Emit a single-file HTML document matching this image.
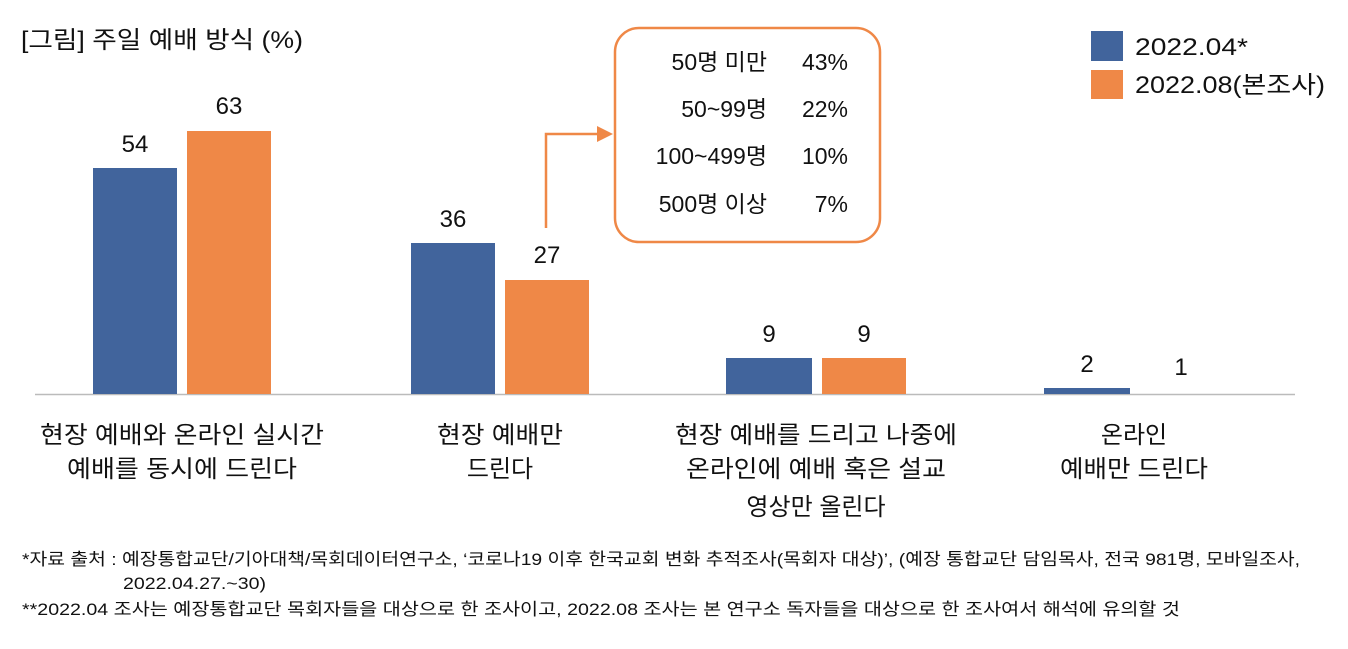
<!DOCTYPE html>
<html><head><meta charset="utf-8"><style>
body{margin:0;background:#fff;}
svg text{font-family:"Liberation Sans","Noto Sans CJK KR",sans-serif;fill:#111;}
</style></head><body>
<svg width="1348" height="644" xmlns="http://www.w3.org/2000/svg">
<text x="21" y="48" font-size="24" fill="#222" textLength="282" lengthAdjust="spacingAndGlyphs">[그림] 주일 예배 방식 (%)</text>
<line x1="35" y1="394.5" x2="1295" y2="394.5" stroke="#bbb" stroke-width="1.5"/>
<g fill="#41649c">
<rect x="93" y="168" width="84" height="226"/>
<rect x="411" y="243" width="84" height="151"/>
<rect x="726" y="358" width="86" height="36"/>
<rect x="1044" y="388" width="86" height="6"/>
</g>
<g fill="#ef8847">
<rect x="187" y="131" width="84" height="263"/>
<rect x="505" y="280" width="84" height="114"/>
<rect x="822" y="358" width="84" height="36"/>
</g>
<g font-size="24" text-anchor="middle">
<text x="135" y="152">54</text><text x="229" y="114">63</text>
<text x="453" y="227">36</text><text x="547" y="263">27</text>
<text x="769" y="342">9</text><text x="864" y="342">9</text>
<text x="1087" y="372">2</text><text x="1181" y="375">1</text>
</g>
<g font-size="24" text-anchor="middle">
<text x="182" y="443" textLength="284" lengthAdjust="spacingAndGlyphs">현장 예배와 온라인 실시간</text>
<text x="182" y="477" textLength="230" lengthAdjust="spacingAndGlyphs">예배를 동시에 드린다</text>
<text x="500" y="443" textLength="126" lengthAdjust="spacingAndGlyphs">현장 예배만</text>
<text x="500" y="477">드린다</text>
<text x="816" y="443" textLength="282" lengthAdjust="spacingAndGlyphs">현장 예배를 드리고 나중에</text>
<text x="816" y="477" textLength="260" lengthAdjust="spacingAndGlyphs">온라인에 예배 혹은 설교</text>
<text x="816" y="515">영상만 올린다</text>
<text x="1134" y="443">온라인</text>
<text x="1134" y="477" textLength="148" lengthAdjust="spacingAndGlyphs">예배만 드린다</text>
</g>
<rect x="615" y="28" width="265" height="214" rx="24" fill="#fff" stroke="#ef8847" stroke-width="2.5"/>
<g font-size="23" text-anchor="end">
<text x="767" y="70">50명 미만</text><text x="848" y="70">43%</text>
<text x="767" y="117">50~99명</text><text x="848" y="117">22%</text>
<text x="767" y="164">100~499명</text><text x="848" y="164">10%</text>
<text x="767" y="212">500명 이상</text><text x="848" y="212">7%</text>
</g>
<polyline points="546,228 546,134 600,134" fill="none" stroke="#ef8847" stroke-width="2.5"/>
<polygon points="597,126 613,134 597,142" fill="#ef8847"/>
<rect x="1091" y="31" width="32" height="30" fill="#41649c"/>
<rect x="1091" y="70" width="32" height="29" fill="#ef8847"/>
<text x="1135" y="55" font-size="24" textLength="113" lengthAdjust="spacingAndGlyphs">2022.04*</text>
<text x="1135" y="93" font-size="24" textLength="190" lengthAdjust="spacingAndGlyphs">2022.08(본조사)</text>
<g font-size="17" fill="#333">
<text x="22" y="565" textLength="1278" lengthAdjust="spacingAndGlyphs">*자료 출처 : 예장통합교단/기아대책/목회데이터연구소, ‘코로나19 이후 한국교회 변화 추적조사(목회자 대상)’, (예장 통합교단 담임목사, 전국 981명, 모바일조사,</text>
<text x="123" y="589" textLength="143" lengthAdjust="spacingAndGlyphs">2022.04.27.~30)</text>
<text x="22" y="615" textLength="1158" lengthAdjust="spacingAndGlyphs">**2022.04 조사는 예장통합교단 목회자들을 대상으로 한 조사이고, 2022.08 조사는 본 연구소 독자들을 대상으로 한 조사여서 해석에 유의할 것</text>
</g>
</svg>
</body></html>
